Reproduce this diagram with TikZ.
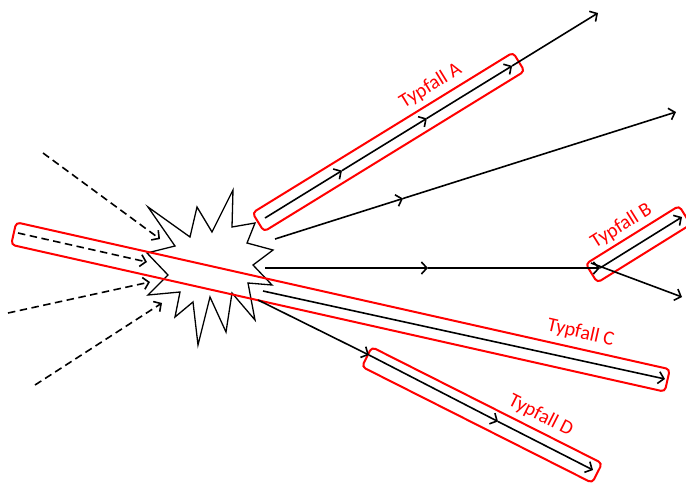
\documentclass[tikz,border=0pt]{standalone}
\usepackage{fontspec}
\setmainfont{Carlito}
\usetikzlibrary{arrows.meta,calc}
\begin{document}
\begin{tikzpicture}[x=1pt,y=-1pt,
  line/.style={line width=1.6pt, black},
  arr/.style={-{Straight Barb[length=5.5pt,width=12pt]}},
  dashline/.style={line, dash pattern=on 7.5pt off 4.5pt},
  redbox/.style={draw=red, line width=2pt, rounded corners=4pt, minimum height=22pt, inner sep=0pt},
  lbl/.style={text=red, font=\fontsize{20}{24}\selectfont, inner sep=0pt},
  burst/.style={draw=black, line width=1.3pt, fill=white, line join=miter}]
\useasboundingbox (0,0) rectangle (686,483);

% explosion
\draw[burst] (148,207) -- (190,237) -- (197,207) -- (212,232) -- (233,190) -- (232,227)
  -- (255,223) -- (247,243) -- (273,250) -- (253,265) -- (272,285) -- (248,283)
  -- (255,320) -- (232,293) -- (226,332) -- (210,297) -- (198,345) -- (193,302)
  -- (175,317) -- (180,292) -- (148,295) -- (168,275) -- (147,253) -- (175,246) -- cycle;

% red boxes
\node[redbox, minimum width=306pt, rotate=31.6] (boxA) at (388.5,142) {};
\node[redbox, minimum width=110pt, rotate=31.9] (boxB) at (638.2,244.2) {};
\node[redbox, minimum width=670pt, minimum height=23pt, rotate=-12.67] (boxC) at (340.5,307) {};
\node[redbox, minimum width=258pt, rotate=-26.77] (boxD) at (482,415) {};

% labels
\node[lbl, rotate=31.6] (lA) at (430.7,86) {Typfall A};
\node[lbl, rotate=32] (lB) at (621.5,226) {Typfall B};
\node[lbl, rotate=-12.7] (lC) at (580.7,333) {Typfall C};
\node[lbl, rotate=-26.8] (lD) at (540.7,415.7) {Typfall D};

% incoming dashed arrows
\coordinate (i1s) at (43,153);  \coordinate (i1e) at (160,239);
\coordinate (i2s) at (18,233);  \coordinate (i2e) at (147,262);
\coordinate (i3s) at (8,313);   \coordinate (i3e) at (150,282);
\coordinate (i4s) at (35,385);  \coordinate (i4e) at (162,303);
\draw[dashline, arr] (i1s) -- (i1e);
\draw[dashline, arr] (i2s) -- (i2e);
\draw[dashline, arr] (i3s) -- (i3e);
\draw[dashline, arr] (i4s) -- (i4e);

% Typfall A line
\coordinate (a0) at (265,218);
\coordinate (a4) at (598,13);
\coordinate (a1) at ($(a0)!0.231!(a4)$);
\coordinate (a2) at ($(a0)!0.486!(a4)$);
\coordinate (a3) at ($(a0)!0.742!(a4)$);
\draw[line, arr] (a0) -- (a1);
\draw[line, arr] (a1) -- (a2);
\draw[line, arr] (a2) -- (a3);
\draw[line, arr] (a3) -- (a4);

% upper line
\coordinate (b0) at (275,239);
\coordinate (bm) at (403,198.5);
\coordinate (b1) at (676,112);
\draw[line, arr] (b0) -- (bm);
\draw[line, arr] (bm) -- (b1);

% horizontal line to Typfall B
\coordinate (h0) at (265,268);
\coordinate (hm) at (428,268);
\coordinate (h1) at (600,268);
\coordinate (bu) at (682,217);
\coordinate (bd0) at (591,263);
\coordinate (bd1) at (682,297);
\draw[line, arr] (h0) -- (hm);
\draw[line, arr] (hm) -- (h1);
\draw[line, arr] (h1) -- (bu);
\draw[line, arr] (bd0) -- (bd1);

% Typfall C line
\coordinate (c0) at (263,291);
\coordinate (c1) at (665,379);
\draw[line, arr] (c0) -- (c1);

% Typfall D line
\coordinate (d0) at (258,300);
\coordinate (d1) at (369,355);
\coordinate (d2) at (498,421.5);
\coordinate (d3) at (593,470);
\draw[line, arr] (d0) -- (d1);
\draw[line, arr] (d1) -- (d2);
\draw[line, arr] (d2) -- (d3);
\end{tikzpicture}
\end{document}
